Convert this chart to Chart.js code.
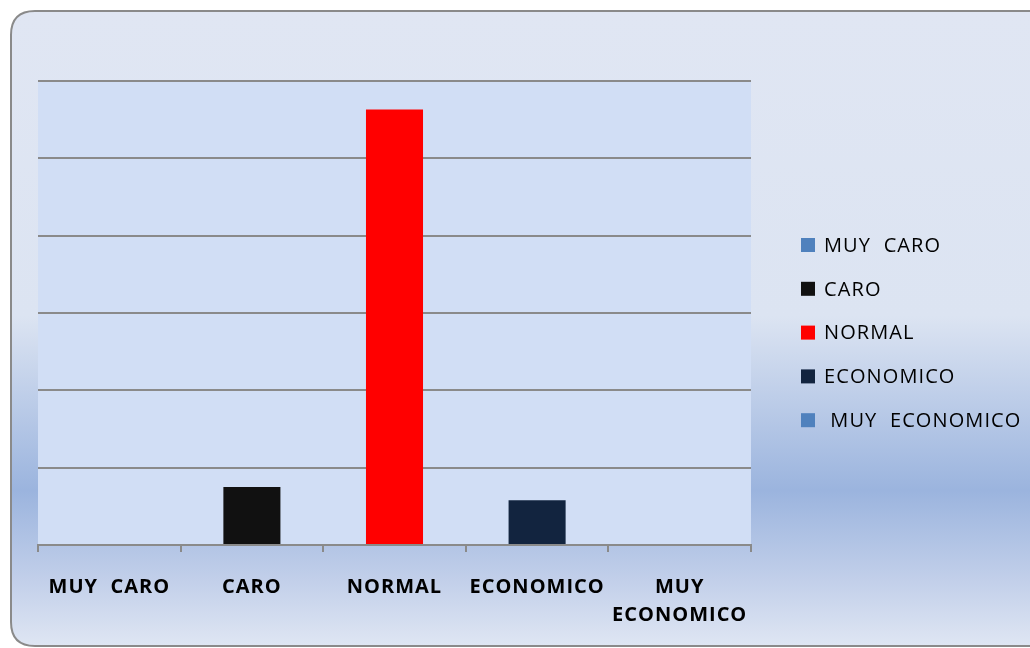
<!DOCTYPE html>
<html>
<head>
<meta charset="utf-8">
<script src="https://cdn.jsdelivr.net/npm/chart.js@4.4.1/dist/chart.umd.min.js"></script>
<style>
  html, body { margin: 0; padding: 0; background: #ffffff; }
  #wrap { width: 1030px; height: 648px; position: relative; }
</style>
</head>
<body>
<div id="wrap"><canvas id="chart" width="1030" height="648"></canvas></div>
<script>
// Price perception categories
const categories = ['MUY  CARO', 'CARO', 'NORMAL', 'ECONOMICO', 'MUY  ECONOMICO'];
// Axis labels (last one wraps onto two lines)
const tickLabels = ['MUY  CARO', 'CARO', 'NORMAL', 'ECONOMICO', ['MUY', 'ECONOMICO']];
// Legend names
const seriesNames = ['MUY  CARO', 'CARO', 'NORMAL', 'ECONOMICO', ' MUY  ECONOMICO'];
// Percentage of answers per category
const values = [0, 7.5, 56.3, 5.8, 0];
const seriesColors = ['#4f81bd', '#111111', '#ff0000', '#12243f', '#4f81bd'];

// One dataset per category, each holding a value only at its own slot
const datasets = seriesNames.map((name, i) => ({
  label: name,
  data: values.map((v, j) => (j === i ? v : null)),
  backgroundColor: seriesColors[i],
  borderWidth: 0
}));

// Rounded panel behind everything
const panelBackground = {
  id: 'panelBackground',
  beforeDraw(chart) {
    const ctx = chart.ctx;
    ctx.save();
    const x = 11, y = 11, right = 1050, bottom = 646, r = 24;
    const g = ctx.createLinearGradient(0, y, 0, bottom);
    g.addColorStop(0, '#e0e6f3');
    g.addColorStop(0.48, '#dce4f2');
    g.addColorStop(0.755, '#9bb4de');
    g.addColorStop(0.9, '#c3d0ea');
    g.addColorStop(1, '#dfe6f3');
    ctx.beginPath();
    ctx.moveTo(x + r, y);
    ctx.lineTo(right, y);
    ctx.lineTo(right, bottom);
    ctx.lineTo(x + r, bottom);
    ctx.quadraticCurveTo(x, bottom, x, bottom - r);
    ctx.lineTo(x, y + r);
    ctx.quadraticCurveTo(x, y, x + r, y);
    ctx.closePath();
    ctx.fillStyle = g;
    ctx.fill();
    ctx.lineWidth = 2;
    ctx.strokeStyle = '#8a8a8a';
    ctx.stroke();
    // plot area fill
    const a = chart.chartArea;
    ctx.fillStyle = '#d1def5';
    ctx.fillRect(a.left, a.top, a.right - a.left, a.bottom - a.top);
    ctx.restore();
    ctx.letterSpacing = '1px';
  }
};

// Vertical legend on the right, drawn from the datasets
const sideLegend = {
  id: 'sideLegend',
  afterDraw(chart) {
    const ctx = chart.ctx;
    ctx.save();
    ctx.letterSpacing = '1.1px';
    ctx.font = '20px "Open Sans"';
    ctx.textBaseline = 'middle';
    const top = 245, step = 43.8;
    chart.data.datasets.forEach((ds, i) => {
      const cy = top + i * step;
      ctx.fillStyle = ds.backgroundColor;
      ctx.fillRect(801, cy - 7, 14, 14);
      ctx.fillStyle = '#000000';
      ctx.fillText(ds.label, 824, cy + 1);
    });
    ctx.restore();
  }
};

new Chart(document.getElementById('chart'), {
  type: 'bar',
  data: { labels: tickLabels, datasets },
  plugins: [panelBackground, sideLegend],
  options: {
    responsive: false,
    animation: false,
    devicePixelRatio: 1,
    layout: { padding: { left: 38, right: 279, top: 81, bottom: -2 } },
    datasets: { bar: { skipNull: true, categoryPercentage: 0.5, barPercentage: 0.8 } },
    plugins: { legend: { display: false }, tooltip: { enabled: false } },
    scales: {
      x: {
        offset: true,
        grid: { display: true, drawOnChartArea: false, drawTicks: true, tickLength: 7, color: '#8a8a8a', lineWidth: 2, offset: true },
        border: { display: true, color: '#8a8a8a', width: 2 },
        ticks: { color: '#000000', font: { family: 'Open Sans', size: 20, weight: 'bold', lineHeight: 1.4 }, maxRotation: 0, autoSkip: false, padding: 21 }
      },
      y: {
        min: 0, max: 60,
        ticks: { display: false, stepSize: 10 },
        grid: { color: '#8a8a8a', lineWidth: 2, drawTicks: false },
        border: { display: false }
      }
    }
  }
});
</script>
</body>
</html>
